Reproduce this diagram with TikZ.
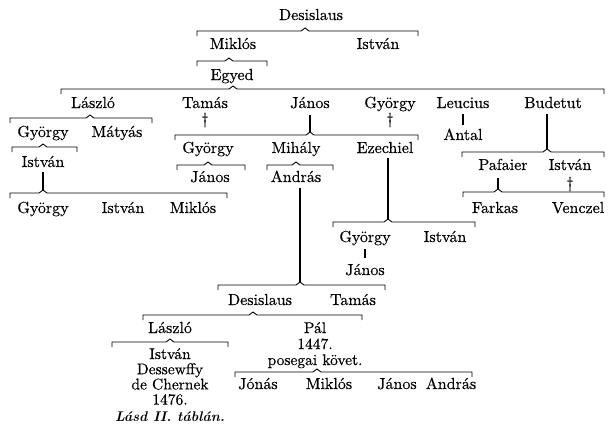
\documentclass[tikz,border=0pt]{standalone}
\usepackage{fontspec}
\newfontfamily\heavy{lmroman10-regular.otf}[FakeBold=0.35]
\newfontfamily\heavyit{lmroman10-bolditalic.otf}
\usetikzlibrary{calc}
\tikzset{
  lbl/.style={anchor=base, inner sep=0pt, font=\heavy\fontsize{16}{18}\selectfont},
  stack/.style={anchor=north, inner sep=0pt, align=center, font=\heavy\fontsize{15.5}{#1}\selectfont},
  ital/.style={lbl, font=\heavyit\fontsize{14}{16}\selectfont},
  brk/.style={draw=black, line width=0.9pt, line join=miter},
  vl/.style={draw=black, line width=1.1pt}
}
% \brak{name}{y}{x1}{peak}{x2}
\newcommand\brak[5]{%
  \draw[brk] (#3,#2+5) -- (#3,#2) -- (#4-4,#2) -- (#4,#2-3) -- (#4+4,#2) -- (#5,#2) -- (#5,#2+5);
  \coordinate (#1) at (#4,#2-3);}
\begin{document}
\begin{tikzpicture}[x=1pt,y=-1pt]
\useasboundingbox (0,0) rectangle (615,437);
\fill[white] (0,0) rectangle (615,437);
% generation 0
\node[lbl] (desis0) at (311,20) {Desislaus};
\brak{b1}{31}{197}{305}{418}
\node[lbl] (miklos1) at (233,49) {Miklós};
\node[lbl] (istvan1) at (378,49) {István};
\brak{b2}{61}{197}{229}{267}
\node[lbl] (egyed) at (232,80) {Egyed};
\brak{b3}{89}{61}{233}{604}
% generation 3
\node[lbl] (laszlo1) at (93,108) {László};
\node[lbl] (tamas1) at (205,108) {Tamás};
\node[lbl] (janos1) at (310,108) {János};
\node[lbl] (gyorgy1) at (390,108) {György};
\node[lbl] (leucius) at (463,108) {Leucius};
\node[lbl] (budetut) at (553,108) {Budetut};
\node[lbl] (dag1) at (205,124) {†};
\node[lbl] (dag2) at (390,124) {†};
% László branch
\brak{b4}{118}{10}{90}{152}
\node[lbl] (gyorgy2) at (43,137) {György};
\node[lbl] (matyas) at (117,137) {Mátyás};
\brak{b5}{147}{12}{43}{77}
\node[lbl] (istvan2) at (43,167) {István};
\brak{b6}{193}{10}{43}{227}
\draw[vl] (b6 |- istvan2.base) ++(0,5) -- (b6);
\node[lbl] (gyorgy3) at (43,213) {György};
\node[lbl] (istvan3) at (123,213) {István};
\node[lbl] (miklos2) at (193,213) {Miklós};
% János branch
\brak{b7}{135}{175}{310}{418}
\draw[vl] (b7 |- janos1.base) ++(0,7) -- (b7);
\node[lbl] (gyorgy4) at (208,153) {György};
\node[lbl] (mihaly) at (296,153) {Mihály};
\node[lbl] (ezechiel) at (385,153) {Ezechiel};
\brak{b8}{165}{177}{208}{245}
\node[lbl] (janos2) at (210,182) {János};
\brak{b9}{165}{267}{296}{333}
\node[lbl] (andras1) at (296,182) {András};
% Leucius / Budetut
\node[lbl] (antal) at (463,140) {Antal};
\draw[vl] ($(leucius.base)+(0,6)$) -- ($(antal.north)+(0,-3)$);
\brak{b11}{152}{462}{547}{604}
\draw[vl] (b11 |- budetut.base) ++(0,6) -- (b11);
\node[lbl] (pafaier) at (503,170) {Pafaier};
\node[lbl] (istvan4) at (570,170) {István};
\node[lbl] (dag3) at (570,188) {†};
\brak{b12}{192}{463}{498}{604}
\draw[vl] (b12 |- pafaier.base) ++(0,8) -- (b12);
\node[lbl] (farkas) at (495,213) {Farkas};
\node[lbl] (venczel) at (578,213) {Venczel};
% Ezechiel branch
\brak{b13}{222}{333}{388}{475}
\draw[vl] (b13 |- ezechiel.base) ++(0,5) -- (b13);
\node[lbl] (gyorgy5) at (365,242) {György};
\node[lbl] (istvan5) at (445,242) {István};
\node[lbl] (janos3) at (365,275) {János};
\draw[vl] ($(gyorgy5.base)+(0,7)$) -- ($(janos3.north)+(0,-6)$);
% András branch
\brak{b15}{285}{218}{300}{385}
\draw[vl] (b15 |- andras1.base) ++(0,6) -- (b15);
\node[lbl] (desis1) at (260,305) {Desislaus};
\node[lbl] (tamas2) at (353,305) {Tamás};
\brak{b16}{315}{143}{253}{362}
\node[lbl] (laszlo2) at (170,333) {László};
\node[stack=16] (pal) at (315,322) {Pál\\1447.\\posegai követ.};
\brak{b17}{342}{112}{170}{228}
\node[stack=15.2] (istvan6) at (170,348) {István\\Dessewffy\\de Chernek\\1476.};
\node[ital] (lasd) at (170,421) {Lásd II. táblán.};
\brak{b18}{372}{235}{317}{472}
\node[lbl] (jonas) at (258,389) {Jónás};
\node[lbl] (miklos3) at (329,389) {Miklós};
\node[lbl] (janos4) at (397,389) {János};
\node[lbl] (andras2) at (451,389) {András};
\end{tikzpicture}
\end{document}
